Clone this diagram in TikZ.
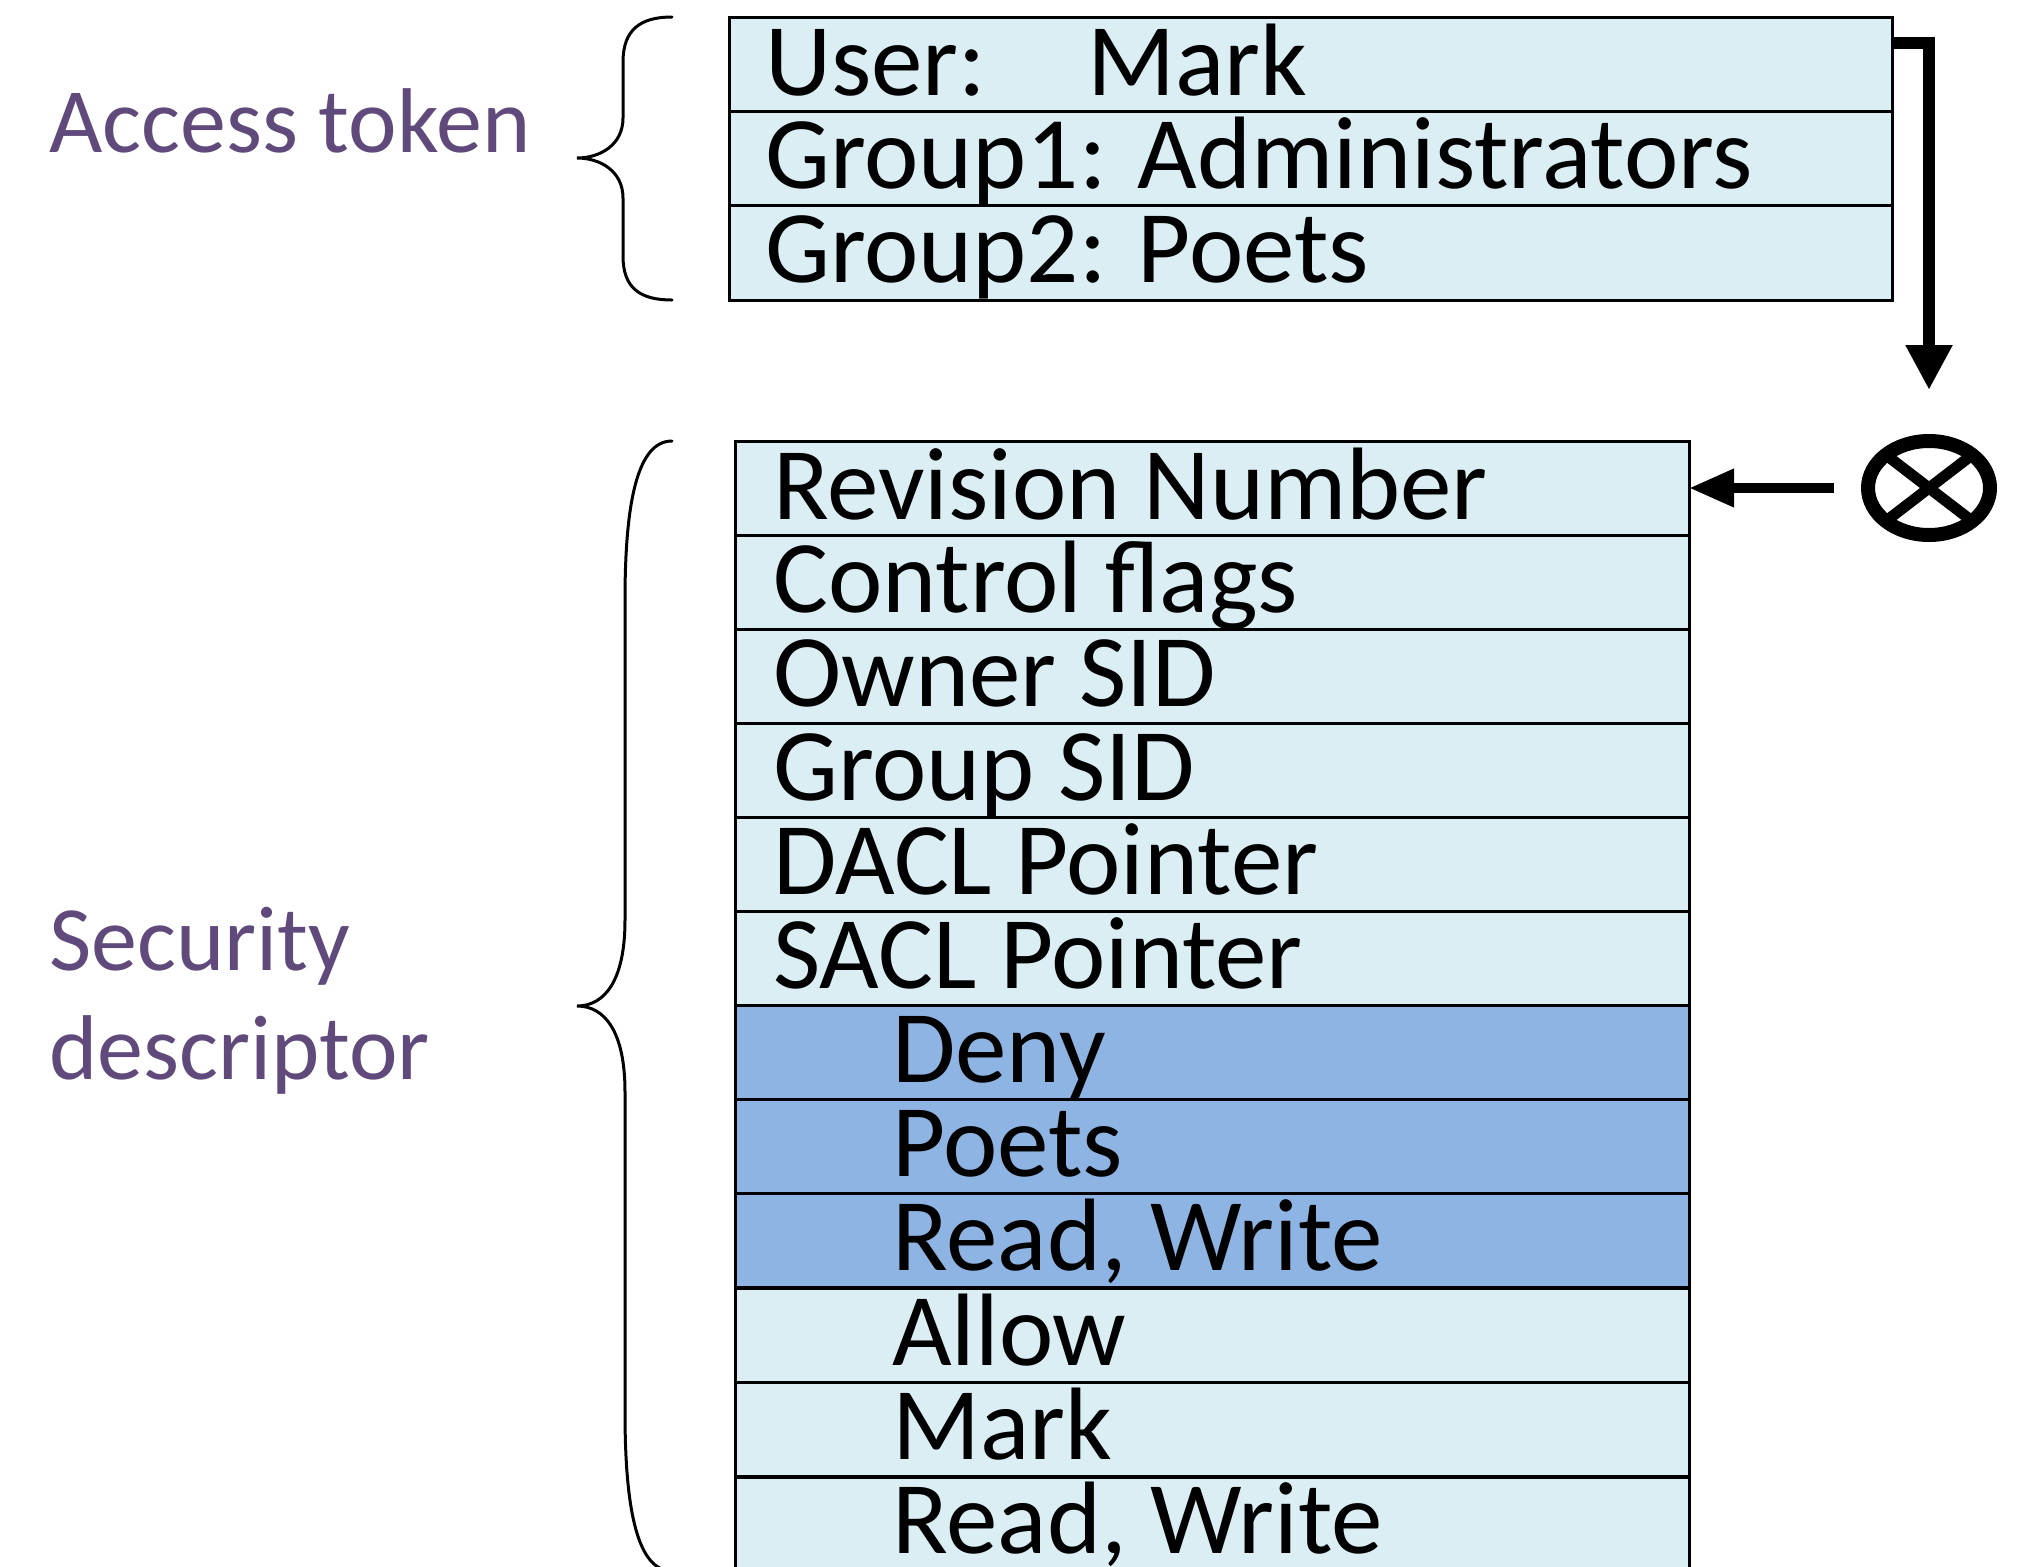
\documentclass[tikz,border=0pt]{standalone}
\usepackage{fontspec}
\setmainfont{Carlito}
\usetikzlibrary{arrows.meta,calc}
\definecolor{lb}{HTML}{DAEEF3}
\definecolor{db}{HTML}{8EB4E3}
\definecolor{pu}{HTML}{604A7B}
\begin{document}
\begin{tikzpicture}[x=1pt,y=-1pt,
  rowbox/.style={draw=black,line width=3pt,fill=lb,anchor=north west,inner sep=0pt,outer sep=0pt,minimum height=94pt},
  tokrow/.style={rowbox,minimum width=1163pt},
  sdrow/.style={rowbox,minimum width=954pt},
  darkrow/.style={sdrow,fill=db},
  txt/.style={anchor=base west,inner sep=0pt,font=\fontsize{103}{120}\selectfont},
  lbl/.style={anchor=base west,inner sep=0pt,text=pu,font=\fontsize{92}{109}\selectfont,align=left},
  brace/.style={line width=3pt,line cap=round},
  fat/.style={line width=12pt}
]
\useasboundingbox (0,0) rectangle (2034,1566);
% access token rows
\node[tokrow,minimum height=94pt] (t1) at (729,17) {};
\node[tokrow,minimum height=94pt] (t2) at (729,111) {};
\node[tokrow,minimum height=95pt] (t3) at (729,205) {};
\node[txt] (tt1) at (765,95) {\makebox[322pt][l]{User:}Mark};
\node[txt] (tt2) at (765,188) {Group1: Administrators};
\node[txt] (tt3) at (765,282) {Group2: Poets};
% security descriptor rows
\foreach \i/\y/\s in {1/441/sdrow,2/535/sdrow,3/629/sdrow,4/723/sdrow,5/817/sdrow,6/911/sdrow,7/1005/darkrow,8/1099/darkrow,9/1193/darkrow,10/1288/sdrow,11/1382/sdrow,12/1477/sdrow}
  \node[\s] (s\i) at (735,\y) {};
\node[txt] (st1) at (773,519) {Revision Number};
\node[txt] (st2) at (773,612) {Control flags};
\node[txt] (st3) at (773,706) {Owner SID};
\node[txt] (st4) at (773,800) {Group SID};
\node[txt] (st5) at (773,894) {DACL Pointer};
\node[txt] (st6) at (773,988) {SACL Pointer};
\node[txt] (st7) at (892,1082) {Deny};
\node[txt] (st8) at (892,1176) {Poets};
\node[txt] (st9) at (892,1270) {Read, Write};
\node[txt] (st10) at (892,1365) {Allow};
\node[txt] (st11) at (892,1459) {Mark};
\node[txt] (st12) at (892,1553) {Read, Write};
% labels
\node[lbl] (la) at (49,152) {Access token};
\node[lbl] (ls) at (49,1079) {Security\\descriptor};
% braces
\draw[brace] (672,17) .. controls (640,17) and (623,30) .. (623,62) -- (623,118)
  .. controls (623,145) and (600,158) .. (577,158)
  .. controls (600,158) and (623,171) .. (623,198) -- (623,256)
  .. controls (623,288) and (640,300) .. (672,300);
\draw[brace] (672,441) .. controls (638,441) and (625,500) .. (625,600) -- (625,920)
  .. controls (625,980) and (605,1006) .. (577,1006)
  .. controls (605,1006) and (625,1032) .. (625,1092) -- (625,1412)
  .. controls (625,1512) and (638,1571) .. (672,1571);
% otimes
\coordinate (oc) at (1929,488);
\draw[line width=14pt] (oc) ellipse [x radius=61pt,y radius=47pt];
\draw[line width=11pt] ($(oc)+(-43,-33)$) -- ($(oc)+(43,33)$);
\draw[line width=11pt] ($(oc)+(-43,33)$) -- ($(oc)+(43,-33)$);
\coordinate (ow) at (1834,488);
\coordinate (on) at (1929,390);
% arrows
\draw[fat,-{Triangle[length=45pt,width=44pt]}] (t1.north east |- 0,43) -- (1929,43) -- (on);
\draw[line width=10pt,-{Triangle[length=45pt,width=36pt]}] (ow) -- (s1.east);
\end{tikzpicture}
\end{document}
